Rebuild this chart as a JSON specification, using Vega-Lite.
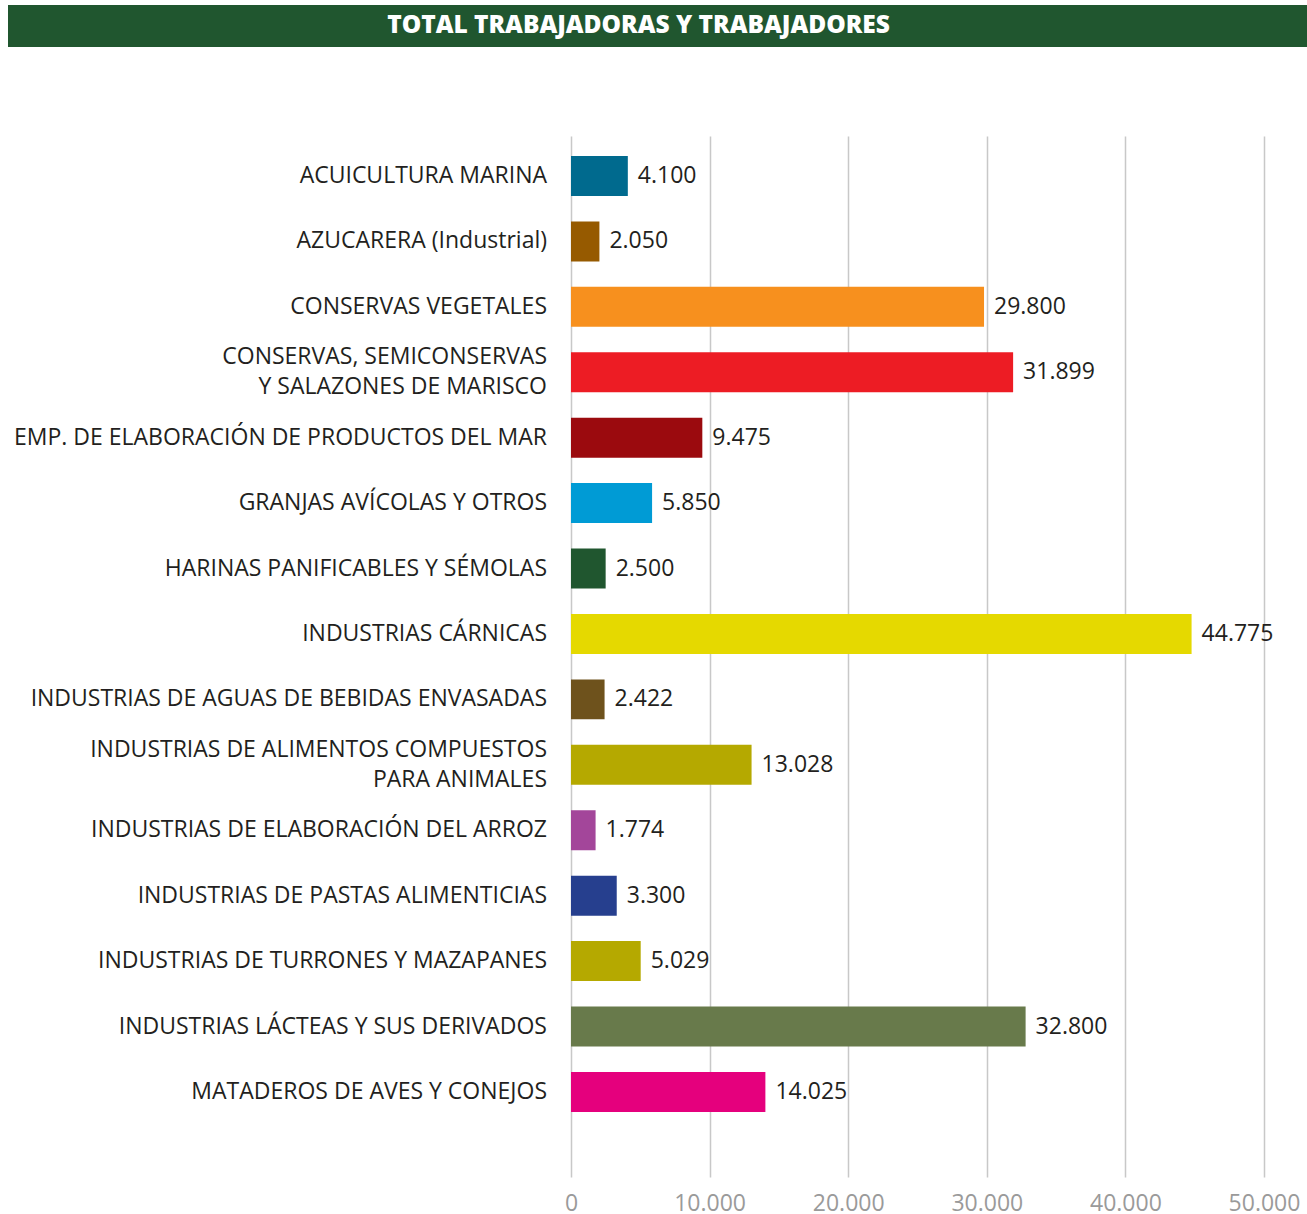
{
  "$schema": "https://vega.github.io/schema/vega-lite/v6.json",
  "padding": {"left": 8, "top": 5, "right": 0, "bottom": 0},
  "background": "white",
  "spacing": 89,
  "config": {
    "view": {"stroke": null},
    "locale": {"number": {"decimal": ",", "thousands": ".", "grouping": [3], "currency": ["", " €"]}},
    "font": "Open Sans"
  },
  "datasets": {
    "sectores": [
      {"cat": "ACUICULTURA MARINA", "value": 4100},
      {"cat": "AZUCARERA (Industrial)", "value": 2050},
      {"cat": "CONSERVAS VEGETALES", "value": 29800},
      {"cat": "CONSERVAS, SEMICONSERVAS|Y SALAZONES DE MARISCO", "value": 31899},
      {"cat": "EMP. DE ELABORACIÓN DE PRODUCTOS DEL MAR", "value": 9475},
      {"cat": "GRANJAS AVÍCOLAS Y OTROS", "value": 5850},
      {"cat": "HARINAS PANIFICABLES Y SÉMOLAS", "value": 2500},
      {"cat": "INDUSTRIAS CÁRNICAS", "value": 44775},
      {"cat": "INDUSTRIAS DE AGUAS DE BEBIDAS ENVASADAS", "value": 2422},
      {"cat": "INDUSTRIAS DE ALIMENTOS COMPUESTOS|PARA ANIMALES", "value": 13028},
      {"cat": "INDUSTRIAS DE ELABORACIÓN DEL ARROZ", "value": 1774},
      {"cat": "INDUSTRIAS DE PASTAS ALIMENTICIAS", "value": 3300},
      {"cat": "INDUSTRIAS DE TURRONES Y MAZAPANES", "value": 5029},
      {"cat": "INDUSTRIAS LÁCTEAS Y SUS DERIVADOS", "value": 32800},
      {"cat": "MATADEROS DE AVES Y CONEJOS", "value": 14025}
    ]
  },
  "vconcat": [
    {
      "width": 1299,
      "height": 42,
      "view": {"fill": "#20562F", "stroke": null},
      "data": {"values": [{"t": "TOTAL TRABAJADORAS Y TRABAJADORES"}]},
      "mark": {"type": "text", "color": "white", "fontWeight": 800, "fontSize": 24.5, "font": "Open Sans", "baseline": "middle", "align": "center", "dx": -19},
      "encoding": {"text": {"field": "t"}}
    },
    {
      "spacing": 17,
      "data": {"name": "sectores"},
      "hconcat": [
        {
          "width": 539,
          "height": 1041,
          "encoding": {
            "y": {
              "field": "cat", "type": "nominal", "sort": null, "axis": null,
              "scale": {
                "type": "band", "paddingInner": 0.389, "paddingOuter": 0.65, "align": 0.235,
                "domain": [
                  "ACUICULTURA MARINA", "AZUCARERA (Industrial)", "CONSERVAS VEGETALES",
                  "CONSERVAS, SEMICONSERVAS|Y SALAZONES DE MARISCO",
                  "EMP. DE ELABORACIÓN DE PRODUCTOS DEL MAR", "GRANJAS AVÍCOLAS Y OTROS",
                  "HARINAS PANIFICABLES Y SÉMOLAS", "INDUSTRIAS CÁRNICAS",
                  "INDUSTRIAS DE AGUAS DE BEBIDAS ENVASADAS",
                  "INDUSTRIAS DE ALIMENTOS COMPUESTOS|PARA ANIMALES",
                  "INDUSTRIAS DE ELABORACIÓN DEL ARROZ", "INDUSTRIAS DE PASTAS ALIMENTICIAS",
                  "INDUSTRIAS DE TURRONES Y MAZAPANES", "INDUSTRIAS LÁCTEAS Y SUS DERIVADOS",
                  "MATADEROS DE AVES Y CONEJOS"
                ]
              }
            },
            "x": {"datum": 1, "type": "quantitative", "scale": {"domain": [0, 1]}, "axis": null},
            "text": {"field": "cat"}
          },
          "layer": [
            {
              "transform": [{"filter": "indexof(datum.cat, '|') < 0"}],
              "mark": {"type": "text", "align": "right", "baseline": "middle", "fontSize": 23, "color": "#231F20", "font": "Open Sans"}
            },
            {
              "transform": [{"filter": "indexof(datum.cat, '|') >= 0"}],
              "mark": {"type": "text", "align": "right", "baseline": "middle", "fontSize": 23, "color": "#231F20", "font": "Open Sans", "lineBreak": "|", "lineHeight": 30, "dy": -15}
            }
          ]
        },
        {
          "width": 693,
          "height": 1041,
          "encoding": {
            "y": {
              "field": "cat", "type": "nominal", "sort": null, "axis": null,
              "scale": {
                "type": "band", "paddingInner": 0.389, "paddingOuter": 0.65, "align": 0.235,
                "domain": [
                  "ACUICULTURA MARINA", "AZUCARERA (Industrial)", "CONSERVAS VEGETALES",
                  "CONSERVAS, SEMICONSERVAS|Y SALAZONES DE MARISCO",
                  "EMP. DE ELABORACIÓN DE PRODUCTOS DEL MAR", "GRANJAS AVÍCOLAS Y OTROS",
                  "HARINAS PANIFICABLES Y SÉMOLAS", "INDUSTRIAS CÁRNICAS",
                  "INDUSTRIAS DE AGUAS DE BEBIDAS ENVASADAS",
                  "INDUSTRIAS DE ALIMENTOS COMPUESTOS|PARA ANIMALES",
                  "INDUSTRIAS DE ELABORACIÓN DEL ARROZ", "INDUSTRIAS DE PASTAS ALIMENTICIAS",
                  "INDUSTRIAS DE TURRONES Y MAZAPANES", "INDUSTRIAS LÁCTEAS Y SUS DERIVADOS",
                  "MATADEROS DE AVES Y CONEJOS"
                ]
              }
            },
            "x": {
              "field": "value", "type": "quantitative",
              "scale": {"domain": [0, 50000], "nice": false},
              "axis": {
                "title": null, "domain": false, "ticks": false, "grid": true,
                "gridColor": "#C8C8C8", "gridWidth": 1.5,
                "values": [0, 10000, 20000, 30000, 40000, 50000], "format": ",d",
                "labelColor": "#9A9A9A", "labelFontSize": 23, "labelPadding": 15,
                "labelFlush": false, "labelFont": "Open Sans"
              }
            }
          },
          "layer": [
            {
              "mark": {"type": "bar"},
              "encoding": {
                "color": {
                  "field": "cat", "type": "nominal", "legend": null,
                  "scale": {
                    "domain": [
                      "ACUICULTURA MARINA", "AZUCARERA (Industrial)", "CONSERVAS VEGETALES",
                      "CONSERVAS, SEMICONSERVAS|Y SALAZONES DE MARISCO",
                      "EMP. DE ELABORACIÓN DE PRODUCTOS DEL MAR", "GRANJAS AVÍCOLAS Y OTROS",
                      "HARINAS PANIFICABLES Y SÉMOLAS", "INDUSTRIAS CÁRNICAS",
                      "INDUSTRIAS DE AGUAS DE BEBIDAS ENVASADAS",
                      "INDUSTRIAS DE ALIMENTOS COMPUESTOS|PARA ANIMALES",
                      "INDUSTRIAS DE ELABORACIÓN DEL ARROZ", "INDUSTRIAS DE PASTAS ALIMENTICIAS",
                      "INDUSTRIAS DE TURRONES Y MAZAPANES", "INDUSTRIAS LÁCTEAS Y SUS DERIVADOS",
                      "MATADEROS DE AVES Y CONEJOS"
                    ],
                    "range": [
                      "#006A8E", "#965A00", "#F7901E", "#ED1C24", "#9B0A0E", "#009BD5",
                      "#20562F", "#E5D900", "#6E521C", "#B5A900", "#A3469A", "#263F8E",
                      "#B5A900", "#687A4B", "#E5007D"
                    ]
                  }
                }
              }
            },
            {
              "mark": {"type": "text", "align": "left", "baseline": "middle", "dx": 10, "fontSize": 23, "color": "#231F20", "font": "Open Sans"},
              "encoding": {"text": {"field": "value", "type": "quantitative", "format": ",d"}}
            }
          ]
        }
      ]
    }
  ]
}
